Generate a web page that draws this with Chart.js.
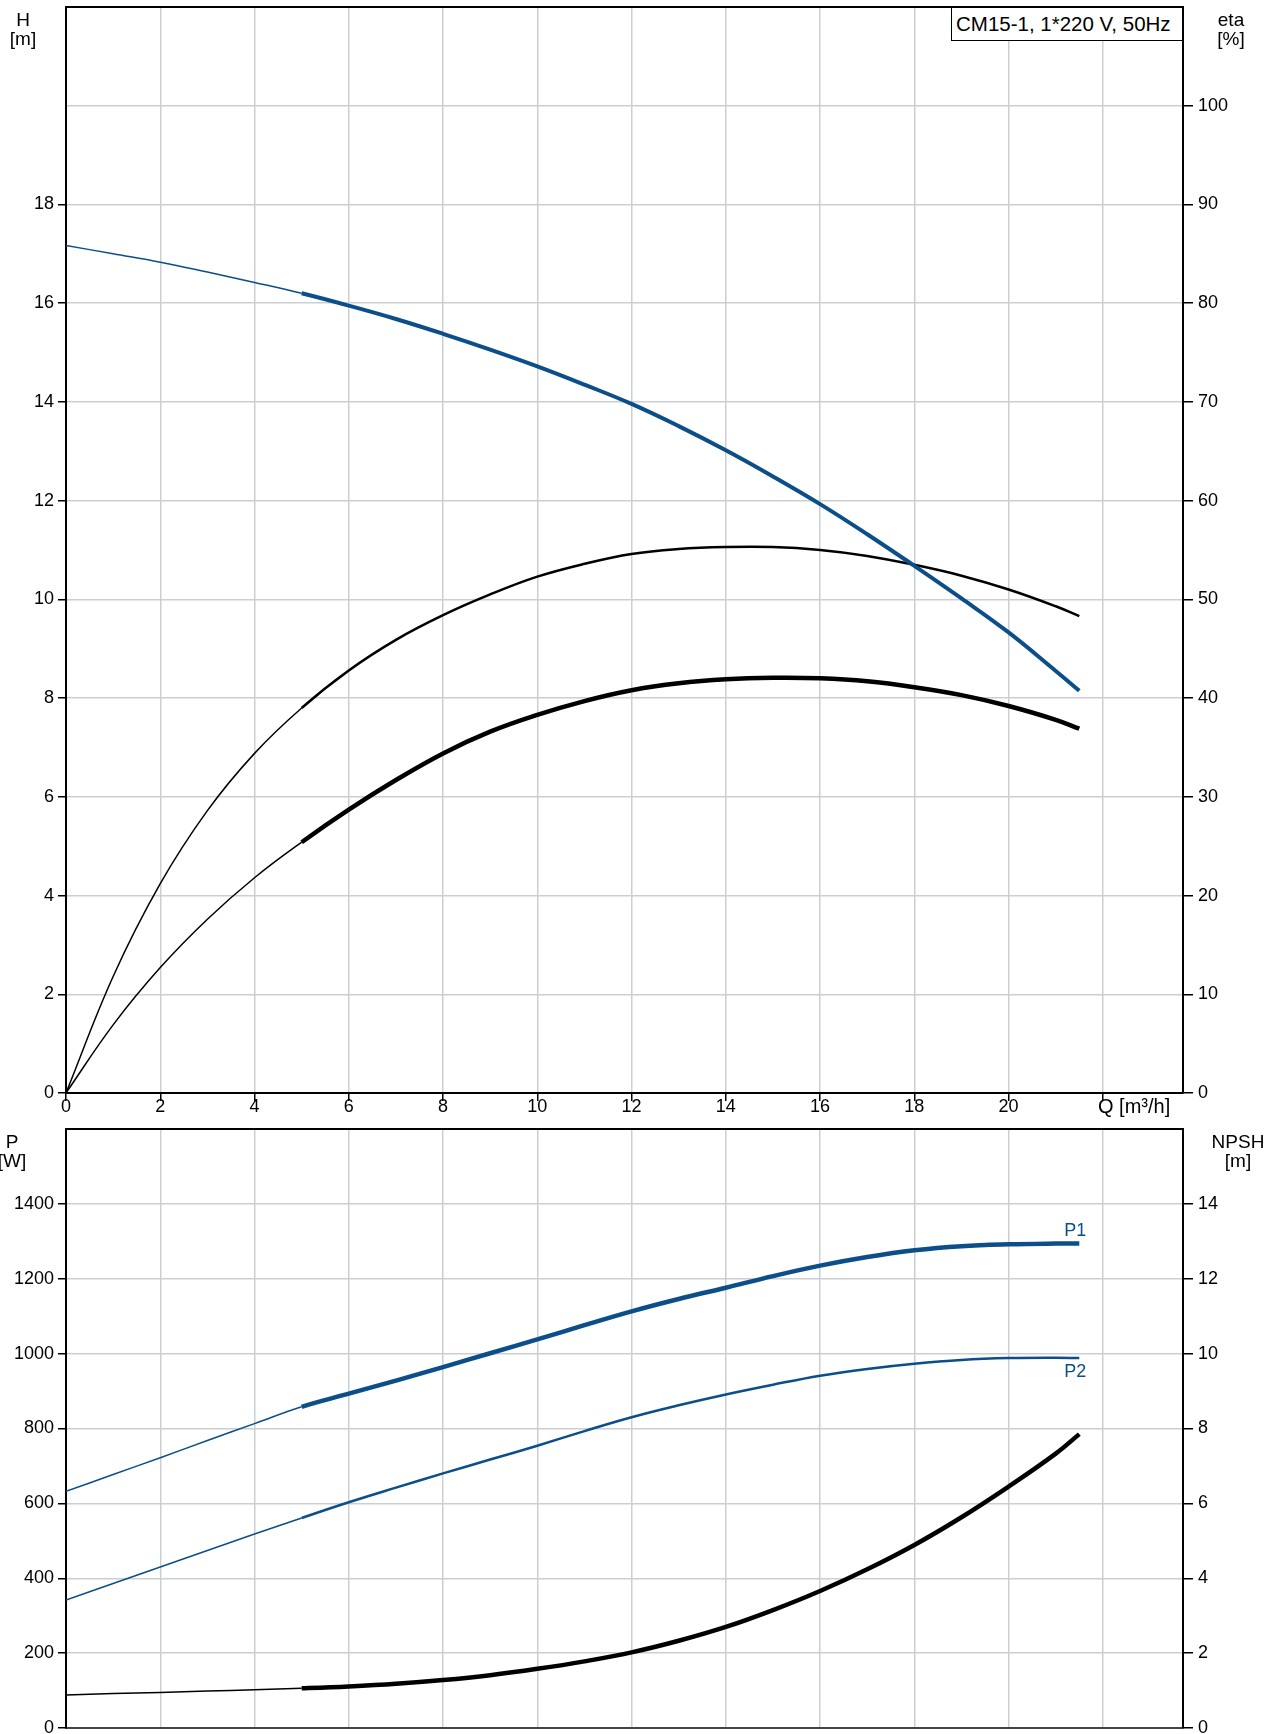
<!DOCTYPE html>
<html>
<head>
<meta charset="utf-8">
<script src="https://cdn.jsdelivr.net/npm/chart.js@4.4.1/dist/chart.umd.min.js"></script>
<style>
  body { margin: 0; background: #fff; font-family: "Liberation Sans", Arial, sans-serif; }
  #wrap { position: relative; width: 1282px; height: 1734px; overflow: hidden; }
  canvas { position: absolute; left: 0; }
  .lbl { position: absolute; font-size: 19px; line-height: 19px; text-align: center; color: #000; white-space: nowrap; }
  #title { position: absolute; left: 951px; top: 7px; width: 226px; height: 32px; padding-left: 4px;
           border: 1px solid #000; background: #fff; font-size: 20.5px; line-height: 32px; white-space: nowrap; }
</style>
</head>
<body>
<div id="wrap">
  <canvas id="top" width="1282" height="1125" style="top:0"></canvas>
  <canvas id="bottom" width="1282" height="609" style="top:1125px"></canvas>
  <div class="lbl" style="left:2px;top:10px;width:42px">H<br>[m]</div>
  <div class="lbl" style="left:1206px;top:10px;width:50px">eta<br>[%]</div>
  <div class="lbl" style="left:-9px;top:1132px;width:42px">P<br>[W]</div>
  <div class="lbl" style="left:1206px;top:1132px;width:64px">NPSH<br>[m]</div>
  <div class="lbl" style="left:1098px;top:1097px;font-size:20px">Q [m³/h]</div>
  <div id="title">CM15-1, 1*220 V, 50Hz</div>
</div>
<script>
// flow points (m3/h)
const flow = [0, 1, 2, 3, 4, 5, 6, 7, 8, 9, 10, 11, 12, 13, 14, 15, 16, 17, 18, 19, 20, 21, 21.5];
// head H [m]
const head = [17.17, 17.0, 16.83, 16.63, 16.42, 16.2, 15.95, 15.68, 15.38, 15.06, 14.72, 14.35, 13.96,
              13.51, 13.02, 12.49, 11.93, 11.32, 10.68, 10.02, 9.33, 8.55, 8.15];
// efficiencies [%]
const etaPump = [0, 11.8, 21.2, 28.6, 34.4, 39.0, 42.8, 45.9, 48.4, 50.5, 52.3, 53.6, 54.6,
                 55.1, 55.3, 55.3, 55.0, 54.4, 53.5, 52.4, 51.0, 49.3, 48.3];
const etaTotal = [0, 6.9, 12.7, 17.6, 21.8, 25.4, 28.7, 31.7, 34.4, 36.6, 38.3, 39.7, 40.8,
                  41.5, 41.9, 42.05, 42.0, 41.7, 41.1, 40.3, 39.2, 37.8, 36.9];
// power [W]
const powerP1 = [632, 677, 722, 768, 813, 858, 893, 928, 964, 1001, 1038, 1076, 1113,
                 1146, 1176, 1207, 1235, 1258, 1276, 1287, 1292, 1294, 1294];
const powerP2 = [342, 386, 430, 474, 518, 561, 603, 642, 680, 717, 754, 793, 830,
                 862, 891, 917, 941, 959, 973, 983, 988, 989, 988];
// NPSH [m]
const npsh = [0.88, 0.92, 0.95, 0.99, 1.02, 1.06, 1.11, 1.18, 1.28, 1.41, 1.58, 1.78, 2.02,
              2.33, 2.70, 3.15, 3.66, 4.24, 4.89, 5.63, 6.45, 7.33, 7.85];

const qLabelMax = 20;
const hLabelMax = 18, etaLabelMax = 100;
const pLabelMax = 1400, npshLabelMax = 14;
const workStart = 5; // curves are drawn thick from here on

const blue = '#0b4e8a';
const gridColor = '#cbcfd3';
const font = { family: '"Liberation Sans", Arial, sans-serif', size: 18 };

function pts(ys) {
    return flow.map((x, i) => ({ x: x, y: ys[i] }));
}

function curve(ys, axis, color, thin, thick) {
    return {
        data: pts(ys),
        yAxisID: axis,
        borderColor: color,
        borderWidth: thick,
        pointRadius: 0,
        fill: false,
        tension: 0.4,
        segment: {
            borderWidth: ctx => ctx.p0.parsed.x >= workStart ? thick : thin
        }
    };
}

// top border of the plot frame
const framePlugin = {
    id: 'frame',
    afterDraw(chart) {
        const a = chart.chartArea, c = chart.ctx;
        c.save();
        c.strokeStyle = '#000';
        c.lineWidth = 2;
        c.beginPath();
        c.moveTo(a.left - 1, a.top);
        c.lineTo(a.right + 1, a.top);
        c.stroke();
        c.restore();
    }
};

function xScale(showLabels, height, borderColor) {
    return {
        type: 'linear',
        min: 0,
        max: 23.7,
        afterFit: s => { s.height = height; s.paddingLeft = 0; s.paddingRight = 0; },
        ticks: {
            stepSize: 2,
            includeBounds: false,
            display: showLabels,
            autoSkip: false,
            color: ctx => ctx.tick.value > qLabelMax ? 'rgba(0,0,0,0)' : '#000',
            font: font,
            padding: -5,
            maxRotation: 0,
            callback: v => String(v)
        },
        grid: { color: gridColor, lineWidth: 1.5, tickColor: '#000', tickLength: showLabels ? 8 : 0, drawTicks: showLabels },
        border: { color: borderColor, width: 2 }
    };
}

function yScale(pos, max, step, labelMax, width, drawGrid) {
    return {
        type: 'linear',
        position: pos,
        min: 0,
        max: max,
        afterFit: s => { s.width = width; s.paddingTop = 0; s.paddingBottom = 0; },
        ticks: {
            stepSize: step,
            autoSkip: false,
            color: ctx => ctx.tick.value > labelMax ? 'rgba(0,0,0,0)' : '#000',
            font: font,
            padding: pos === 'left' ? 4 : 5,
            callback: v => String(v)
        },
        grid: {
            display: true,
            drawOnChartArea: drawGrid,
            color: gridColor,
            lineWidth: 1.5,
            tickColor: ctx => ctx.tick.value > labelMax ? 'rgba(0,0,0,0)' : '#000',
            tickLength: pos === 'left' ? 8 : 10
        },
        border: { color: '#000', width: 2 }
    };
}

new Chart(document.getElementById('top'), {
    type: 'line',
    data: {
        datasets: [
            curve(head, 'y', blue, 1.5, 4),
            curve(etaPump, 'eta', '#000', 1.5, 2.5),
            curve(etaTotal, 'eta', '#000', 1.5, 4.5)
        ]
    },
    options: {
        responsive: false,
        animation: false,
        devicePixelRatio: 1,
        layout: { padding: { top: 7, left: 0, right: 0, bottom: 0 } },
        plugins: { legend: { display: false }, tooltip: { enabled: false } },
        scales: {
            x: xScale(true, 32, '#000'),
            y: yScale('left', 22, 2, hLabelMax, 66, true),
            eta: yScale('right', 110, 10, etaLabelMax, 99, false)
        }
    },
    plugins: [framePlugin]
});

// P1 / P2 labels next to the curve ends
const endLabels = {
    id: 'endLabels',
    afterDraw(chart) {
        const c = chart.ctx;
        const xs = chart.scales.x, ys = chart.scales.y;
        const last = flow.length - 1;
        const x = xs.getPixelForValue(flow[last]) - 4;
        c.save();
        c.fillStyle = blue;
        c.font = '18px "Liberation Sans", Arial, sans-serif';
        c.textAlign = 'center';
        c.textBaseline = 'bottom';
        c.fillText('P1', x, ys.getPixelForValue(powerP1[last]) - 4);
        c.textBaseline = 'top';
        c.fillText('P2', x, ys.getPixelForValue(powerP2[last]) + 5);
        c.restore();
    }
};

new Chart(document.getElementById('bottom'), {
    type: 'line',
    data: {
        datasets: [
            curve(powerP1, 'y', blue, 1.5, 4.5),
            curve(powerP2, 'y', blue, 1.5, 2.5),
            curve(npsh, 'npsh', '#000', 1.5, 4.5)
        ]
    },
    options: {
        responsive: false,
        animation: false,
        devicePixelRatio: 1,
        layout: { padding: { top: 4, left: 0, right: 0, bottom: 0 } },
        plugins: { legend: { display: false }, tooltip: { enabled: false } },
        scales: {
            x: xScale(false, 6, '#444'),
            y: yScale('left', 1600, 200, pLabelMax, 66, true),
            npsh: yScale('right', 16, 2, npshLabelMax, 99, false)
        }
    },
    plugins: [framePlugin, endLabels]
});
</script>
</body>
</html>
